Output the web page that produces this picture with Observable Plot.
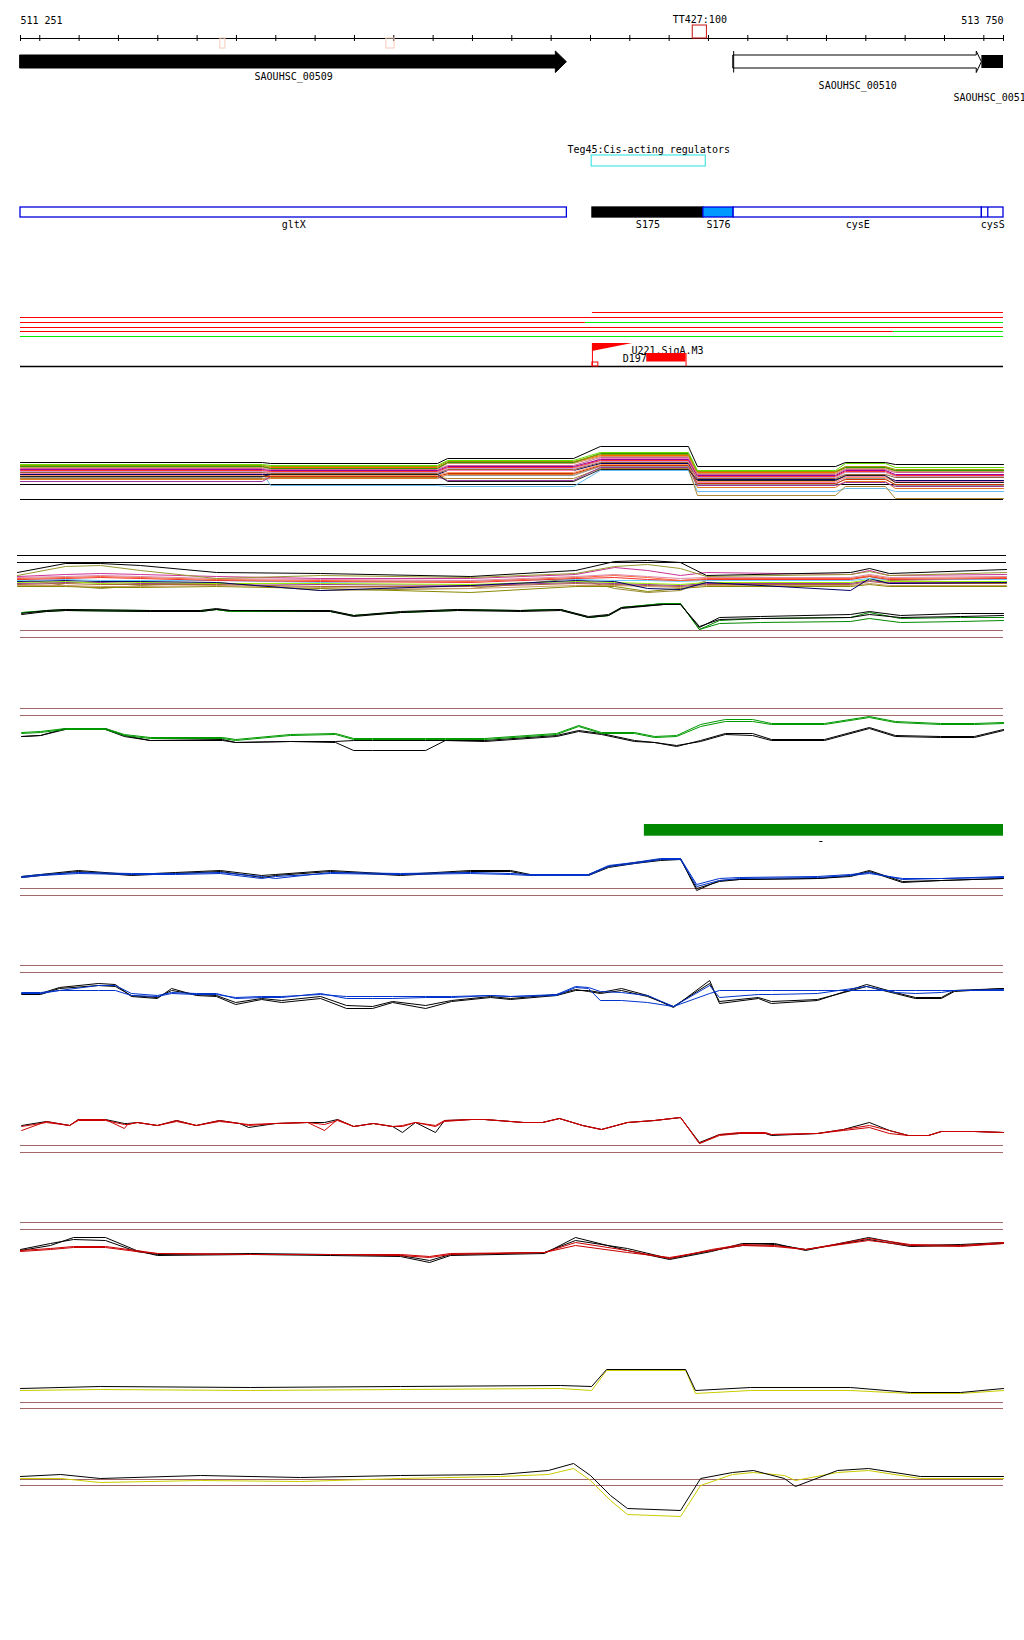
<!DOCTYPE html>
<html><head><meta charset="utf-8">
<script src="https://cdn.jsdelivr.net/npm/d3@7"></script>
<script src="https://cdn.jsdelivr.net/npm/@observablehq/plot@0.6"></script>
<style>
html,body{margin:0;padding:0;background:#fff;overflow:hidden}
#chart{width:1024px}
#chart svg{display:block}
</style>
</head><body><div id="chart"></div>
<script>
// ---------- genomic window ----------
const START = 511251, END = 513750;
const rulerTicks = [511251,511300,511400,511500,511600,511700,511800,511900,512000,512100,512200,512300,512400,512500,512600,512700,512800,512900,513000,513100,513200,513300,513400,513500,513600,513700,513750];
const rulerLabels = [{pos:511251,label:"511 251"},{pos:513750,label:"513 750"}];
const terminators = [{name:"TT427:100", start:512960, end:512996}];
const faintSites = [{start:511759,end:511772},{start:512181,end:512202}];

// ---------- genes ----------
const geneNames = ["SAOUHSC_00509","SAOUHSC_00510","SAOUHSC_00511"];
const geneStart = [511251,513064,513695];
const geneEnd   = [512640,513695,513750];
const geneHeadStart = [512612,513682,513750];
const geneFilled = [true,false,true];

// ---------- regulators ----------
const regulators = [{name:"Teg45:Cis-acting regulators", start:512703, end:512993}];

// ---------- transcripts / features ----------
const featNames = ["gltX","S175","S176","cysE","cysS"];
const featStart = [511251,512705,512987,513064,513695];
const featEnd   = [512640,512987,513064,513695,513750];
const featFill  = ["white","black","#0099ff","white","white"];
const cysSSplit = [513710];

// ---------- conditions rows (up / down) ----------
const hitRow    = [0,1,2,2,3,4,4,5];
const hitStart  = [512705,511251,511251,512687,511251,511251,513470,511251];
const hitEnd    = [513750,513750,512687,513750,513750,513470,513750,513750];
const hitStatus = ["up","up","up","down","up","up","down","down"];

// ---------- motifs ----------
const motifs = [{name:"U221.SigA.M3", start:512705, end:512807, kind:"wedge"},
                {name:"D197", start:512843, end:512943, kind:"box"}];

// ---------- panel A: many conditions, segment levels ----------
const panelAX = [511251,511866,511887,512311,512337,512657,512725,512949,512972,513323,513348,513450,513475,513750];
const panelA = [
 {c:"#66bbee", v:[4.8,3.5,3.4,5.0,2.9,3.2,2.9]},
 {c:"#aa8833", v:[4.2,4.3,4.2,5.2,2.5,3.4,2.2]},
 {c:"#dd7722", v:[4.1,4.2,4.6,5.4,3.3,3.9,3.2]},
 {c:"#993399", v:[3.9,4.4,4.0,5.3,3.5,3.8,3.4]},
 {c:"#999999", v:[4.3,5.0,4.5,5.4,3.6,4.2,3.5]},
 {c:"#cc3300", v:[4.4,4.4,4.7,5.5,3.7,4.1,3.6]},
 {c:"#ff9966", v:[4.5,4.5,4.8,5.6,3.9,4.3,3.8]},
 {c:"#000066", v:[4.6,4.6,5.0,5.7,4.1,4.4,4.0]},
 {c:"#ee88bb", v:[4.7,4.8,5.0,6.2,3.8,4.4,3.9]},
 {c:"#996633", v:[4.8,4.7,5.1,5.8,4.2,4.6,4.3]},
 {c:"#cc99cc", v:[4.9,4.8,5.2,5.9,4.3,4.8,4.4]},
 {c:"#ff3333", v:[5.0,4.9,5.3,6.0,4.4,4.9,4.5]},
 {c:"#990099", v:[5.1,5.0,5.4,6.1,4.5,5.0,4.6]},
 {c:"#cc6699", v:[5.2,5.1,5.5,6.3,4.6,5.1,4.8]},
 {c:"#cc9966", v:[5.3,5.2,5.7,6.4,4.7,5.2,4.9]},
 {c:"#ff6600", v:[5.4,5.3,5.8,6.5,4.8,5.3,5.0]},
 {c:"#339900", v:[5.4,5.2,5.8,6.7,4.9,5.3,5.0]},
 {c:"#999900", v:[5.5,5.4,5.9,6.6,4.9,5.4,5.1]},
 {c:"#66dd00", v:[5.6,5.5,6.0,6.8,5.0,5.7,5.3]},
 {c:"#222222", v:[4.4,4.6,3.9,5.1,4.0,4.5,3.8]},
 {c:"#000000", v:[5.8,5.7,6.2,7.4,5.4,5.8,5.6]}
];
const panelARules = [3.6,2.1];

// ---------- panel B (upper band) ----------
const panelB1X = [511251,511372,511461,511562,511754,512017,512396,512661,512760,512843,512926,512992,513356,513404,513454,513750];
const panelB1 = [
 {c:"#998833", v:[2.2,1.5,1.2,1.5,1.8,1.0,1.2,2.2,1.2,0.8,1.0,2.0,2.2,2.4,2.0,2.2]},
 {c:"#888800", v:[1.4,1.4,1.3,1.3,1.4,1.2,0.8,1.4,1.4,0.9,1.2,1.4,1.4,1.6,1.4,1.4]},
 {c:"#cc9966", v:[1.5,1.5,1.4,1.4,1.5,1.3,1.2,1.5,1.5,1.4,1.3,1.5,1.5,1.7,1.5,1.5]},
 {c:"#aa6633", v:[1.6,1.7,1.6,1.6,1.6,1.4,1.4,1.7,1.6,1.5,1.4,1.6,1.6,1.9,1.7,1.7]},
 {c:"#993399", v:[1.7,1.8,1.8,1.7,1.7,1.6,1.5,1.8,1.7,1.6,1.5,1.7,1.7,2.0,1.8,1.8]},
 {c:"#99ee00", v:[1.8,1.9,1.7,1.8,1.7,1.7,1.6,1.9,1.8,1.7,1.6,1.8,1.8,2.1,1.9,1.9]},
 {c:"#000066", v:[1.9,2.0,1.9,1.9,1.8,1.0,1.5,2.0,1.9,1.2,1.1,1.8,1.0,2.2,1.7,1.8]},
 {c:"#66ccff", v:[2.0,2.1,2.0,2.0,2.0,1.8,2.0,2.1,2.0,2.0,1.9,2.0,2.0,2.2,2.1,2.1]},
 {c:"#ee3333", v:[2.1,2.2,2.3,2.2,2.0,1.9,1.8,2.2,2.3,2.1,2.0,2.1,2.1,2.4,2.1,2.2]},
 {c:"#ff6633", v:[2.2,2.3,2.4,2.3,2.1,2.0,1.9,2.3,2.5,2.3,2.0,2.2,2.2,2.5,2.2,2.3]},
 {c:"#dd88aa", v:[2.3,2.4,2.5,2.4,2.2,2.1,2.0,2.4,2.6,2.4,2.2,2.3,2.3,2.6,2.3,2.4]},
 {c:"#cc3399", v:[2.4,2.6,2.7,2.6,2.4,2.2,2.2,2.6,3.3,3.0,2.5,2.8,2.6,3.0,2.5,2.6]},
 {c:"#999933", v:[2.5,3.4,3.5,3.0,2.2,2.5,2.3,2.7,3.4,3.6,3.2,2.4,2.6,2.9,2.5,2.8]},
 {c:"#000000", v:[2.8,3.7,3.7,3.5,2.8,2.7,2.4,3.0,3.9,4.0,3.8,2.5,2.8,3.2,2.7,3.1]}
];
const panelB1Rules = [4.5,3.8];

// ---------- panel B (lower, green / black) ----------
const panelB2X = [511254,511317,511365,511581,511709,511749,511785,512039,512098,512217,512362,512522,512624,512695,512746,512779,512886,512929,512977,513028,513132,513361,513409,513488,513641,513750];
const panelB2 = [
 {c:"#008800", v:[4.8,4.9,5.0,4.9,4.9,5.1,4.9,4.9,4.5,4.8,5.0,5.0,5.1,4.3,4.5,5.3,5.7,5.7,3.1,3.7,3.8,3.9,4.2,3.8,3.9,4.0]},
 {c:"#008800", v:[4.8,5.0,5.1,5.0,5.0,5.1,4.9,4.9,4.5,4.8,5.1,5.0,5.1,4.3,4.5,5.3,5.7,5.7,3.1,4.0,4.2,4.3,4.8,4.2,4.3,4.3]},
 {c:"#000000", v:[4.6,4.9,5.0,4.9,4.9,5.1,5.0,4.9,4.4,4.8,5.0,4.9,5.0,4.3,4.5,5.2,5.6,5.6,3.4,4.1,4.2,4.3,4.6,4.3,4.4,4.5]},
 {c:"#000000", v:[4.7,5.0,5.1,5.0,5.0,5.2,5.0,5.0,4.5,4.9,5.1,5.0,5.1,4.4,4.6,5.3,5.6,5.6,3.3,4.3,4.4,4.6,4.9,4.5,4.7,4.7]}
];
const panelB2Rules = [3.0,2.3];

// ---------- panel C ----------
const panelCX = [511254,511302,511365,511467,511515,511581,511765,511798,511937,512052,512098,512146,512281,512331,512431,512614,512670,512728,512812,512863,512919,512980,513043,513112,513160,513295,513409,513475,513590,513676,513750];
const panelC = [
 {c:"#000000", v:[2.4,2.5,3.1,3.1,2.4,2.0,2.0,1.8,1.9,1.8,1.0,1.0,1.0,2.0,1.9,2.4,2.9,2.6,1.9,1.8,1.5,1.9,2.6,2.5,2.0,2.0,3.2,2.4,2.3,2.3,3.0]},
 {c:"#000000", v:[2.4,2.5,3.2,3.2,2.5,2.0,2.1,1.8,1.9,1.9,2.0,2.0,2.0,2.0,2.0,2.5,3.0,2.7,2.0,1.8,1.4,2.0,2.7,2.7,2.1,2.1,3.3,2.5,2.4,2.4,3.1]},
 {c:"#009900", v:[2.7,2.8,3.1,3.1,2.5,2.2,2.2,2.0,2.5,2.6,2.1,2.1,2.1,2.1,2.1,2.6,3.4,2.7,2.7,2.3,2.4,3.4,3.9,3.9,3.6,3.6,4.3,3.8,3.6,3.6,3.7]},
 {c:"#009900", v:[2.8,2.9,3.2,3.2,2.6,2.3,2.3,2.1,2.6,2.7,2.2,2.2,2.2,2.2,2.2,2.7,3.5,2.8,2.8,2.4,2.5,3.6,4.1,4.1,3.7,3.7,4.4,3.9,3.7,3.7,3.8]}
];
const panelCRules = [5.2,4.5];

// ---------- panel D ----------
const panelDX = [511254,511302,511398,511533,511645,511759,511864,511899,512039,512217,512395,512497,512547,512695,512746,512812,512878,512929,512970,513028,513079,513277,513361,513409,513493,513592,513750];
const panelD = [
 {c:"#000000", v:[3.4,3.6,4.0,3.6,3.8,4.0,3.5,3.6,4.0,3.6,4.0,4.0,3.6,3.6,4.4,4.8,5.1,5.2,2.0,3.0,3.1,3.2,3.5,4.0,2.9,3.0,3.2]},
 {c:"#000000", v:[3.3,3.5,3.9,3.5,3.7,3.9,3.3,3.5,3.9,3.5,3.9,3.9,3.5,3.5,4.3,4.7,5.0,5.1,2.2,2.9,3.1,3.2,3.4,3.9,2.8,3.0,3.2]},
 {c:"#0033cc", v:[3.4,3.6,3.8,3.7,3.7,3.8,3.4,3.2,3.8,3.7,3.8,3.7,3.6,3.6,4.5,4.8,5.2,5.2,2.6,3.2,3.3,3.4,3.6,3.8,3.1,3.2,3.3]},
 {c:"#0033cc", v:[3.3,3.5,3.7,3.6,3.6,3.7,3.2,3.4,3.7,3.6,3.7,3.6,3.5,3.5,4.4,4.7,5.1,5.1,2.4,3.0,3.2,3.3,3.5,3.7,3.2,3.2,3.4]}
];
const panelDRules = [2.2,1.5];
const panelDBlocks = [{start:512837, end:513750, lo:7.43, hi:8.6}];
const panelDMarks = [{start:513283, end:513291, v:6.9}];

// ---------- panel E ----------
const panelEX = [511254,511302,511350,511449,511492,511533,511599,511635,511698,511749,511798,511864,511915,512014,512080,512146,512197,512281,512347,512446,512497,512614,512662,512695,512725,512779,512845,512911,513003,513028,513127,513160,513277,513402,513475,513526,513592,513625,513750];
const panelE = [
 {c:"#000000", v:[4.7,4.7,5.3,5.7,5.6,4.4,4.2,5.2,4.5,4.4,3.6,4.1,3.8,4.2,3.2,3.2,3.8,3.2,3.9,4.3,4.1,4.5,5.0,5.0,4.8,5.2,4.5,3.3,6.0,3.7,4.2,3.7,4.0,5.6,4.8,4.3,4.3,5.0,5.2]},
 {c:"#000000", v:[4.6,4.6,5.2,5.5,5.4,4.5,4.3,5.0,4.6,4.5,3.8,4.2,4.0,4.4,3.5,3.4,3.9,3.5,4.0,4.4,4.2,4.6,5.1,4.9,4.7,5.0,4.4,3.4,5.7,3.9,4.3,3.9,4.1,5.4,4.7,4.2,4.2,4.9,5.2]},
 {c:"#0033cc", v:[4.8,4.8,5.0,5.5,5.5,4.7,4.5,4.8,4.7,4.7,4.2,4.3,4.3,4.7,4.2,4.2,4.2,4.3,4.3,4.5,4.4,4.5,5.3,5.2,4.0,4.0,3.8,3.4,4.7,5.0,5.0,5.0,5.0,5.0,5.0,5.0,5.0,5.0,5.0]},
 {c:"#0033cc", v:[4.7,4.7,5.0,5.0,5.0,4.5,4.4,4.7,4.6,4.6,4.3,4.4,4.4,4.6,4.4,4.4,4.4,4.4,4.4,4.5,4.4,4.6,5.4,5.3,4.9,4.8,4.5,3.4,5.5,4.3,4.6,4.6,4.7,5.4,4.8,4.7,4.8,5.0,5.1]}
];
const panelERules = [7.5,6.8];

// ---------- panel F ----------
const panelFX = [511254,511317,511376,511398,511467,511515,511523,511548,511599,511648,511698,511757,511808,511831,511899,511981,512024,512057,512098,512148,512197,512222,512255,512306,512329,512398,512431,512530,512578,512621,512680,512728,512794,512863,512929,512977,513028,513079,513145,513160,513277,513343,513409,513460,513508,513559,513592,513676,513750];
const panelF = [
 {c:"#000000", v:[3.5,3.9,3.5,4.1,4.1,3.7,3.7,3.8,3.5,4.0,3.5,4.0,3.7,3.3,3.7,3.8,3.8,4.1,3.4,3.7,3.4,2.8,3.8,2.8,4.0,4.1,4.1,3.8,3.8,4.2,3.5,3.1,3.8,4.0,4.3,1.8,2.6,2.7,2.7,2.5,2.7,3.1,3.8,3.0,2.5,2.5,2.9,2.9,2.8]},
 {c:"#cc0000", v:[3.4,3.8,3.5,4.0,4.0,3.6,3.6,3.8,3.5,3.9,3.5,3.9,3.7,3.5,3.7,3.8,3.6,4.0,3.4,3.7,3.4,3.4,3.8,3.4,3.9,4.1,4.1,3.8,3.8,4.2,3.5,3.1,3.8,4.0,4.3,1.7,2.5,2.7,2.7,2.6,2.7,3.0,3.3,2.7,2.5,2.5,2.9,2.9,2.8]},
 {c:"#cc0000", v:[3.0,3.9,3.5,4.1,4.1,3.2,3.6,3.8,3.5,4.0,3.5,4.0,3.7,3.6,3.7,3.8,3.0,4.1,3.4,3.7,3.4,3.5,3.8,3.5,4.0,4.1,4.1,3.8,3.8,4.2,3.5,3.1,3.8,4.0,4.3,1.7,2.6,2.8,2.8,2.6,2.7,3.1,3.5,3.0,2.5,2.5,2.9,2.9,2.8]}
];
const panelFRules = [1.5,0.8];

// ---------- panel G ----------
const panelGX = [511251,511327,511386,511467,511546,511599,511836,512039,512217,512291,512344,512583,512662,512794,512901,513008,513086,513168,513247,513407,513513,513641,513750];
const panelG = [
 {c:"#000000", v:[5.0,5.5,6.3,6.3,5.0,4.5,4.6,4.5,4.4,3.8,4.5,4.7,6.3,5.0,4.1,4.9,5.7,5.7,5.0,6.3,5.5,5.6,5.8]},
 {c:"#000000", v:[5.1,5.7,6.1,6.0,4.9,4.6,4.7,4.6,4.5,4.0,4.6,4.8,6.0,5.2,4.2,5.0,5.5,5.6,5.1,6.1,5.4,5.5,5.7]},
 {c:"#cc0000", v:[5.0,5.2,5.4,5.4,5.0,4.7,4.6,4.6,4.6,4.4,4.7,4.8,5.5,4.8,4.3,5.0,5.5,5.4,5.1,6.0,5.5,5.4,5.7]},
 {c:"#cc0000", v:[4.9,5.1,5.3,5.3,4.9,4.7,4.6,4.6,4.5,4.3,4.6,4.8,5.8,5.0,4.2,5.1,5.6,5.5,5.1,6.2,5.6,5.5,5.8]}
];
const panelGRules = [7.8,7.1];

// ---------- panel H ----------
const panelHX = [511251,511454,511836,512217,512624,512703,512741,512942,512967,513107,513361,513513,513641,513750];
const panelH = [
 {c:"#cccc00", v:[3.0,3.1,3.0,3.1,3.2,3.0,5.0,5.0,2.7,3.0,3.0,2.7,2.7,3.0]},
 {c:"#000000", v:[3.2,3.4,3.3,3.4,3.5,3.4,5.1,5.1,3.0,3.3,3.3,2.8,2.8,3.2]}
];
const panelHRules = [1.8,1.2];

// ---------- panel I ----------
const panelIX = [511251,511353,511454,511709,511963,512217,512471,512593,512657,512700,512751,512794,512929,512980,513061,513114,513193,513221,513328,513407,513539,513750];
const panelI = [
 {c:"#cccc00", v:[16.2,16.2,15.8,16.0,15.9,16.2,16.4,16.6,17.2,16.0,14.0,12.6,12.4,15.5,16.6,16.8,16.5,16.0,16.8,17.0,16.2,16.2]},
 {c:"#000000", v:[16.4,16.6,16.2,16.5,16.3,16.5,16.6,17.0,17.7,16.5,14.5,13.2,13.0,16.2,16.8,17.0,16.2,15.4,17.0,17.2,16.4,16.4]}
];
const panelIRules = [16.1,15.5];

// ================= drawing =================
const FONT = {fontFamily:"'DejaVu Sans Mono', monospace", fontSize:"10px", color:"black", background:"white"};
const BROWN = "#a06868";
const chart = document.getElementById("chart");

const genes = geneNames.map((n,i)=>({name:n,start:geneStart[i],end:geneEnd[i],head:geneHeadStart[i],filled:geneFilled[i]}));
const feats = featNames.map((n,i)=>({name:n,start:featStart[i],end:featEnd[i],fill:featFill[i]}));
const hits = hitRow.map((r,i)=>({row:r,start:hitStart[i],end:hitEnd[i],status:hitStatus[i]}));
const rowY = [312,317,322,327,331,336];
const labelY = [76,85,97.5];

function arrowPts(g){
  return [
    {x:g.start, t:55, b:68},
    {x:g.head, t:55, b:68},
    {x:g.head, t:51, b:72.5},
    {x:g.end, t:61.7, b:61.7}
  ];
}
const arrowGenes = genes.filter(g => g.head < g.end);
const boxGenes = genes.filter(g => g.head >= g.end);
const wedges = motifs.filter(m=>m.kind==="wedge");
const boxes = motifs.filter(m=>m.kind==="box");

const tracks = Plot.plot({
  width:1024, height:372, marginLeft:20, marginRight:21, marginTop:0, marginBottom:0,
  x:{domain:[START,END], axis:null},
  y:{domain:[0,372], range:[0,372], axis:null},
  style:FONT,
  marks:[
    // ruler
    Plot.ruleY([38], {x1:START, x2:END, stroke:"black", strokeWidth:1}),
    Plot.ruleX(rulerTicks, {y1:35, y2:41, stroke:"black", strokeWidth:1}),
    Plot.text(rulerLabels.filter(d=>d.pos===START), {x:"pos", y:20.5, text:"label", textAnchor:"start"}),
    Plot.text(rulerLabels.filter(d=>d.pos===END), {x:"pos", y:20.5, text:"label", textAnchor:"end"}),
    Plot.rect(terminators, {x1:"start", x2:"end", y1:25, y2:38, fill:"none", stroke:"#cc1111", strokeWidth:1}),
    Plot.text(terminators, {x:d=>(d.start+d.end)/2, y:19, text:"name"}),
    Plot.rect(faintSites, {x1:"start", x2:"end", y1:38, y2:48, fill:"none", stroke:"#f6cbb8", strokeWidth:1}),
    // genes
    ...arrowGenes.map(g => Plot.area(arrowPts(g), {x1:"x", y1:"t", y2:"b", fill:g.filled?"black":"white", stroke:"black", strokeWidth:1})),
    Plot.ruleX(genes.filter(g=>!g.filled), {x:"start", y1:51, y2:72.5, stroke:"black"}),
    Plot.rect(boxGenes, {x1:"start", x2:"end", y1:55, y2:68, fill:"black"}),
    Plot.text(genes, {x:d=>(d.start+d.end)/2, y:(d,i)=>labelY[i], text:"name"}),
    // regulators
    Plot.rect(regulators, {x1:"start", x2:"end", y1:155, y2:166, fill:"none", stroke:"#22e0e0", strokeWidth:1}),
    Plot.text(regulators, {x:d=>(d.start+d.end)/2, y:149, text:"name"}),
    // features
    Plot.rect(feats, {x1:"start", x2:"end", y1:207, y2:217, fill:"fill", stroke:d=>d.fill==="black"?"black":"#0000dd", strokeWidth:1.3}),
    Plot.ruleX(cysSSplit, {y1:207, y2:217, stroke:"#0000dd", strokeWidth:1.3}),
    Plot.text(feats, {x:d=>(d.start+d.end)/2, y:224.5, text:"name"}),
    // condition rows
    Plot.ruleY(hits, {x1:"start", x2:"end", y:d=>rowY[d.row], stroke:d=>d.status==="up"?"#ff0000":"#00ee00", strokeWidth:1}),
    Plot.ruleY([366], {x1:START, x2:END, stroke:"black", strokeWidth:1.3}),
    // motifs
    ...wedges.map(m => Plot.area([{x:m.start,s:1},{x:m.end,s:0}], {x1:"x", y1:343, y2:d=>343+8*d.s, fill:"#ff0000", curve:"linear"})),
    Plot.ruleX(wedges, {x:"start", y1:343, y2:366, stroke:"#ff0000"}),
    Plot.rect(wedges, {x1:"start", x2:d=>d.start+15, y1:362, y2:366, fill:"none", stroke:"#ff0000"}),
    Plot.text(wedges, {x:d=>d.end-3, y:350, text:"name", textAnchor:"start"}),
    Plot.text(boxes, {x:"start", y:358, text:"name", textAnchor:"end"}),
    Plot.rect(boxes, {x1:"start", x2:"end", y1:353, y2:361.5, fill:"#ff0000"}),
    Plot.ruleX(boxes, {x:"end", y1:353, y2:366, stroke:"#ff0000"})
  ]
});
chart.appendChild(tracks);

function toPoints(xs, s){ return s.v.map((v,i)=>({x:xs[i], v})); }
function stepPoints(xs, s){ return s.v.flatMap((v,i)=>[{x:xs[2*i], v},{x:xs[2*i+1], v}]); }

function panel({height, xs, series, rules, ruleColor=BROWN, step=false, left=20, right=21, extra=[]}){
  return Plot.plot({
    width:1024, height, marginLeft:left, marginRight:right, marginTop:0, marginBottom:0,
    x:{domain:[START,END], axis:null},
    y:{domain:[0,height/10], range:[height,0], axis:null},
    style:FONT,
    marks:[
      ...extra,
      Plot.ruleY(rules, {x1:START, x2:END, stroke:ruleColor, strokeWidth:1.2}),
      ...series.map(s => Plot.line(step?stepPoints(xs,s):toPoints(xs,s), {x:"x", y:"v", stroke:s.c, strokeWidth:1, curve:"linear"}))
    ]
  });
}

chart.appendChild(panel({height:148, xs:panelAX, series:panelA, rules:panelARules, ruleColor:"black", step:true}));
chart.appendChild(panel({height:80, xs:panelB1X, series:panelB1, rules:panelB1Rules, ruleColor:"black", left:17, right:18}));
chart.appendChild(panel({height:60, xs:panelB2X, series:panelB2, rules:panelB2Rules}));
chart.appendChild(panel({height:100, xs:panelCX, series:panelC, rules:panelCRules}));
chart.appendChild(panel({height:150, xs:panelDX, series:panelD, rules:panelDRules, extra:[
  Plot.rect(panelDBlocks, {x1:"start", x2:"end", y1:"lo", y2:"hi", fill:"#008800"}),
  Plot.ruleY(panelDMarks, {x1:"start", x2:"end", y:"v", stroke:"black"})
]}));
chart.appendChild(panel({height:130, xs:panelEX, series:panelE, rules:panelERules}));
chart.appendChild(panel({height:120, xs:panelFX, series:panelF, rules:panelFRules}));
chart.appendChild(panel({height:140, xs:panelGX, series:panelG, rules:panelGRules}));
chart.appendChild(panel({height:120, xs:panelHX, series:panelH, rules:panelHRules}));
chart.appendChild(panel({height:220, xs:panelIX, series:panelI, rules:panelIRules}));
</script>
</body></html>
